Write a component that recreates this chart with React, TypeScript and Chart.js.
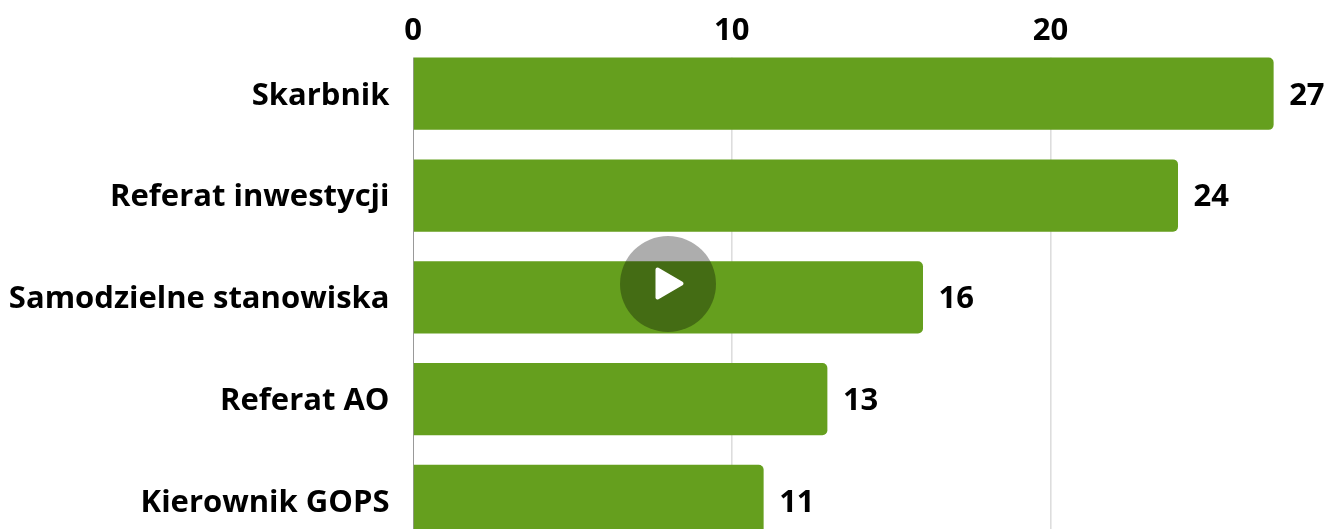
import React, { useEffect, useRef } from "react";
import { Chart, registerables } from "chart.js";

Chart.register(...registerables);

const categories = ["Skarbnik", "Referat inwestycji", "Samodzielne stanowiska", "Referat AO", "Kierownik GOPS"];
const values = [27, 24, 16, 13, 11];
const barColor = "#659f1e";
const font = { family: "'Open Sans'", size: 31, weight: "bold" as const };

const nudgeLabels = {
  id: "nudgeLabels",
  beforeDraw(chart: any) {
    const nudge = (scale: any, dy: number) => {
      const items = scale.getLabelItems(chart.chartArea);
      items.forEach((it: any) => {
        if (!it.__nudged) {
          it.options.translation = [it.options.translation[0], it.options.translation[1] + dy];
          it.__nudged = true;
        }
      });
    };
    nudge(chart.scales.y, 2);
    nudge(chart.scales.x, 7);
  },
};

const clearAboveFirstBar = {
  id: "clearAboveFirstBar",
  beforeDatasetsDraw(chart: any) {
    const { ctx, chartArea } = chart;
    const first = chart.getDatasetMeta(0).data[0] as any;
    ctx.save();
    ctx.fillStyle = "#ffffff";
    ctx.fillRect(chartArea.left - 2, chartArea.top - 1, chartArea.right - chartArea.left + 4, first.y - first.height / 2 - chartArea.top + 1);
    ctx.restore();
  },
};

const valueLabels = {
  id: "valueLabels",
  afterDatasetsDraw(chart: any) {
    const { ctx } = chart;
    ctx.save();
    ctx.font = `bold ${font.size}px ${font.family}`;
    ctx.fillStyle = "#000000";
    ctx.textAlign = "left";
    ctx.textBaseline = "middle";
    chart.getDatasetMeta(0).data.forEach((bar: any, i: number) => {
      ctx.fillText(String(values[i]), bar.x + 15.5, bar.y + 2);
    });
    ctx.restore();
  },
};

export default function App() {
  const ref = useRef<HTMLCanvasElement>(null);
  useEffect(() => {
    const chart = new Chart(ref.current!, {
      type: "bar",
      plugins: [nudgeLabels, clearAboveFirstBar, valueLabels],
      data: {
        labels: categories,
        datasets: [
          {
            data: values,
            backgroundColor: barColor,
            borderRadius: 5,
            borderSkipped: "left",
            categoryPercentage: 1,
            barPercentage: 0.71,
          },
        ],
      },
      options: {
        indexAxis: "y",
        animation: false,
        responsive: false,
        devicePixelRatio: 1,
        layout: { padding: { left: 0, top: 0, right: 21.5, bottom: 0 } },
        plugins: { legend: { display: false }, tooltip: { enabled: false } },
        scales: {
          x: {
            position: "top",
            min: 0,
            max: 28,
            afterBuildTicks(axis: any) {
              axis.ticks = axis.ticks.filter((t: any) => t.value % 10 === 0);
            },
            afterFit(axis: any) {
              axis.height = 42.8;
            },
            ticks: { stepSize: 10, color: "#000000", font, padding: 0, maxRotation: 0, z: 1 },
            grid: {
              color: (c: any) => (c.tick && c.tick.value === 0 ? "rgba(0,0,0,0)" : "#dddddd"),
              lineWidth: 1.6,
              drawTicks: false,
            },
            border: { display: false },
          },
          y: {
            afterFit(axis: any) {
              axis.width = 413;
            },
            ticks: { color: "#000000", font, padding: 23.5, crossAlign: "near" },
            grid: { display: false, drawTicks: false },
            border: { display: true, color: "#999999", width: 1 },
          },
        },
      },
    } as any);
    return () => chart.destroy();
  }, []);

  return (
    <div style={{ position: "fixed", left: 0, top: 0, width: 1327, height: 529, overflow: "hidden", background: "#fff" }}>
      <canvas ref={ref} width={1327} height={594} style={{ display: "block" }} />
      <svg width={96} height={96} viewBox="0 0 96 96" style={{ position: "absolute", left: 619.5, top: 236 }}>
        <circle cx={48} cy={48} r={48} fill="rgba(0,0,0,0.32)" />
        <path d="M37.5 33.5 L61.5 47.5 L37.5 61.5 Z" fill="#fff" stroke="#fff" strokeWidth={4} strokeLinejoin="round" />
      </svg>
    </div>
  );
}
